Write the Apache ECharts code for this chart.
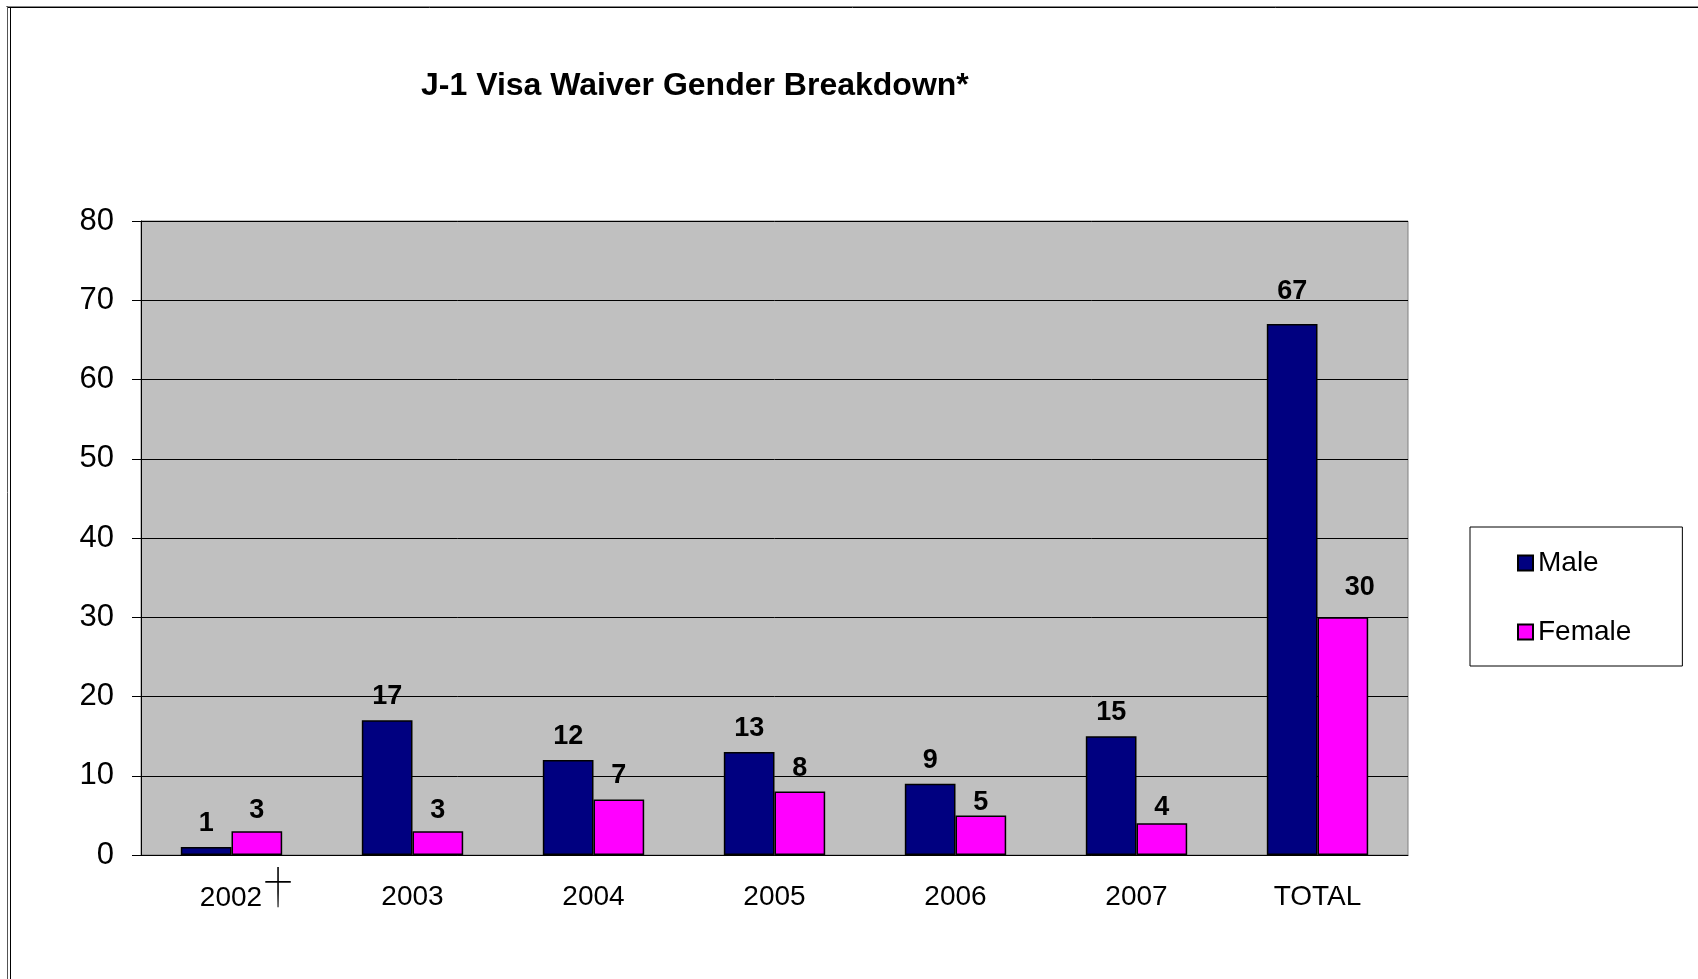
<!DOCTYPE html>
<html>
<head>
<meta charset="utf-8">
<script src="https://cdn.jsdelivr.net/npm/echarts@6/dist/echarts.min.js"></script>
<style>
html,body{margin:0;padding:0;background:#fff;}
#c{width:1698px;height:979px;}
</style>
</head>
<body>
<div id="c"></div>
<script>
const categories = ['2002†', '2003', '2004', '2005', '2006', '2007', 'TOTAL'];
const maleValues = [1, 17, 12, 13, 9, 15, 67];
const femaleValues = [3, 3, 7, 8, 5, 4, 30];
const yTicks = [0, 10, 20, 30, 40, 50, 60, 70, 80];

const FONT = "'Liberation Sans', Arial, sans-serif";
const chart = echarts.init(document.getElementById('c'), null, {renderer: 'canvas'});

// label placement tweaks (as manually positioned in the original)
const maleOffsets = {6: [0, -9]};
const femaleOffsets = {0: [0, 3], 1: [0, 3], 4: [0, 11], 5: [0, 8], 6: [17, -6]};
const withOffsets = (vals, offs) => vals.map((v, i) => offs[i] ? {value: v, label: {offset: offs[i]}} : v);

const labelStyle = {show: true, position: 'top', distance: 10, color: '#000', fontFamily: FONT, fontSize: 27, fontWeight: 'bold'};

const option = {
  backgroundColor: '#fff',
  animation: false,
  title: {
    text: 'J-1 Visa Waiver Gender Breakdown*',
    left: 421, top: 70, padding: 0,
    textStyle: {fontFamily: FONT, fontSize: 32, fontWeight: 'bold', color: '#000'}
  },
  graphic: [
    {type: 'line', shape: {x1: 6, y1: 6.5, x2: 1698, y2: 6.5}, style: {stroke: '#888', lineWidth: 1}},
    {type: 'line', shape: {x1: 7, y1: 7.5, x2: 1698, y2: 7.5}, style: {stroke: '#000', lineWidth: 1}},
    {type: 'line', shape: {x1: 7.5, y1: 6, x2: 7.5, y2: 979}, style: {stroke: '#555', lineWidth: 1}},
    {type: 'line', shape: {x1: 10.5, y1: 7, x2: 10.5, y2: 979}, style: {stroke: '#000', lineWidth: 1}}
  ],
  legend: {
    orient: 'vertical',
    left: 1470, top: 527,
    padding: [22, 51, 20, 47],
    itemGap: 41,
    itemWidth: 15, itemHeight: 15,
    borderColor: '#000', borderWidth: 1,
    icon: 'rect',
    textStyle: {fontFamily: FONT, fontSize: 28, color: '#000', padding: [0, 0, 0, 0]},
    data: ['Male', 'Female']
  },
  grid: {
    left: 141, right: 290, top: 221, bottom: 124,
    show: true, backgroundColor: '#C0C0C0', borderColor: '#808080', borderWidth: 1
  },
  xAxis: {
    type: 'category',
    data: categories,
    axisLine: {lineStyle: {color: '#000', width: 1}},
    axisTick: {length: 9, lineStyle: {color: '#000'}},
    axisLabel: {
      interval: 0,
      margin: 28, color: '#000', fontFamily: FONT, fontSize: 28,
      formatter: function (v) {
        if (v.indexOf('†') >= 0) return '{p|}' + v.replace('†', '') + '{d|†}';
        return v;
      },
      rich: {
        p: {width: 30, lineHeight: 30},
        d: {width: 30, align: 'left', fontSize: 72, lineHeight: 30, fontFamily: "Inter, 'DejaVu Sans', sans-serif",
            fontWeight: 100, color: '#000', padding: [0, 0, 0, 1]}
      }
    }
  },
  yAxis: {
    type: 'value',
    min: yTicks[0], max: yTicks[yTicks.length - 1], interval: 10,
    axisLine: {show: true, lineStyle: {color: '#000', width: 1}},
    axisTick: {show: true, length: 9, lineStyle: {color: '#000'}},
    axisLabel: {margin: 27, color: '#000', fontFamily: FONT, fontSize: 31},
    splitLine: {show: true, lineStyle: {color: '#000', width: 1}}
  },
  series: [
    {
      name: 'Male', type: 'bar', data: withOffsets(maleValues, maleOffsets),
      barGap: '0%', barCategoryGap: '44%',
      itemStyle: {color: '#000080', borderColor: '#000', borderWidth: 1.5},
      label: labelStyle
    },
    {
      name: 'Female', type: 'bar', data: withOffsets(femaleValues, femaleOffsets),
      barGap: '0%', barCategoryGap: '44%',
      itemStyle: {color: '#FF00FF', borderColor: '#000', borderWidth: 1.5},
      label: labelStyle
    }
  ]
};
chart.setOption(option);
</script>
</body>
</html>
